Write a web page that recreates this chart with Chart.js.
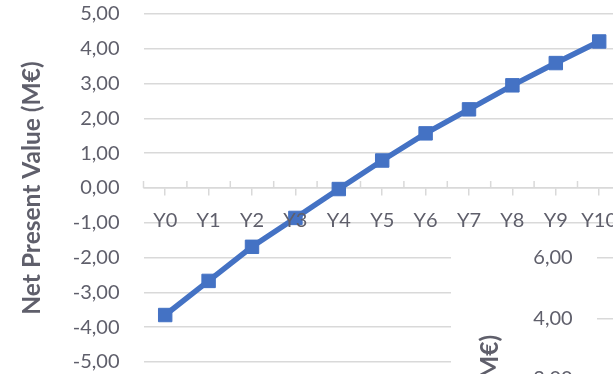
<!DOCTYPE html>
<html>
<head>
<meta charset="utf-8">
<script src="https://cdn.jsdelivr.net/npm/chart.js@4/dist/chart.umd.min.js"></script>
<style>
  html, body { margin: 0; padding: 0; background: #fff; overflow: hidden; }
  #wrap { position: relative; width: 613px; height: 374px; overflow: hidden; }
  #mainBox { position: absolute; left: 0; top: -19.7px; width: 640px; height: 416px; }
  #sideCover { position: absolute; left: 451px; top: 235px; width: 400px; height: 480px; background: #fff; }
  #sideBox { position: absolute; left: 451px; top: 223.7px; width: 400px; height: 475px; }
</style>
</head>
<body>
<div id="wrap">
  <div id="mainBox"><canvas id="npvChart"></canvas></div>
  <div id="sideCover"></div>
  <div id="sideBox"><canvas id="npvChart2"></canvas></div>
</div>
<script>
const years = ['Y0', 'Y1', 'Y2', 'Y3', 'Y4', 'Y5', 'Y6', 'Y7', 'Y8', 'Y9', 'Y10'];
const npv = [-3.65, -2.67, -1.69, -0.86, -0.03, 0.79, 1.57, 2.26, 2.95, 3.59, 4.21];
const npvTicks = [-5, -4, -3, -2, -1, 0, 1, 2, 3, 4, 5];
const sideTicks = [-6, -4, -2, 0, 2, 4, 6];
const axisTitle = 'Net Present Value (M€)';

const textGrey = '#5f5f6b';
const gridGrey = '#d9d9d9';
const lineBlue = '#4472C4';
const tickFont = { family: 'Lato', size: 20, lineHeight: 1 };
const titleFont = { family: 'Lato', size: 24.5, weight: 'bold' };

const fmt = v => v.toFixed(2).replace('.', ',');

// short tick marks above the zero axis, so they cross it
const crossTicks = {
    id: 'crossTicks',
    beforeDatasetsDraw(chart) {
        const xs = chart.scales.x;
        const y0 = chart.scales.y.getPixelForValue(0);
        const step = (xs.right - xs.left) / years.length;
        const ctx = chart.ctx;
        ctx.save();
        ctx.strokeStyle = gridGrey;
        ctx.lineWidth = 1.5;
        ctx.beginPath();
        for (let i = 0; i <= years.length; i++) {
            const x = xs.left + i * step;
            ctx.moveTo(x, y0 - 7);
            ctx.lineTo(x, y0);
        }
        ctx.stroke();
        ctx.restore();
    }
};

function npvConfig(tickList, yMin, yMax, axisWidth, padding, plugins) {
    return {
        type: 'line',
        data: {
            labels: years,
            datasets: [{
                data: npv,
                borderColor: lineBlue,
                backgroundColor: lineBlue,
                borderWidth: 5.5,
                pointStyle: 'rect',
                pointRadius: 9.5,
                pointBorderWidth: 1,
                tension: 0
            }]
        },
        options: {
            responsive: true,
            maintainAspectRatio: false,
            animation: false,
            layout: { padding: padding },
            plugins: { legend: { display: false }, tooltip: { enabled: false } },
            scales: {
                y: {
                    min: yMin,
                    max: yMax,
                    afterBuildTicks: s => { s.ticks = tickList.map(v => ({ value: v })); },
                    afterFit: s => { s.width = axisWidth; },
                    ticks: { font: tickFont, color: textGrey, padding: 24, callback: v => fmt(v) },
                    grid: { color: gridGrey, lineWidth: 1.5, drawTicks: false },
                    border: { display: false },
                    title: {
                        display: true,
                        text: axisTitle,
                        font: titleFont,
                        color: textGrey,
                        padding: { top: 0, bottom: 0 }
                    }
                },
                x: {
                    type: 'category',
                    position: { y: 0 },
                    offset: true,
                    grid: { drawOnChartArea: false, tickLength: 7, color: gridGrey, lineWidth: 1.5 },
                    border: { color: gridGrey, width: 1.5 },
                    ticks: { font: tickFont, color: textGrey, padding: 16, z: 1, maxRotation: 0, autoSkip: false }
                }
            }
        },
        plugins: plugins
    };
}

new Chart(document.getElementById('npvChart'),
    npvConfig(npvTicks, -5, 5, 126.5, { left: 17, top: 0, right: 19.1, bottom: 0 }, [crossTicks]));

new Chart(document.getElementById('npvChart2'),
    npvConfig(sideTicks, -7.5, 6, 121.4, { left: 24.3, top: 0, right: 10, bottom: 0 }, []));
</script>
</body>
</html>
